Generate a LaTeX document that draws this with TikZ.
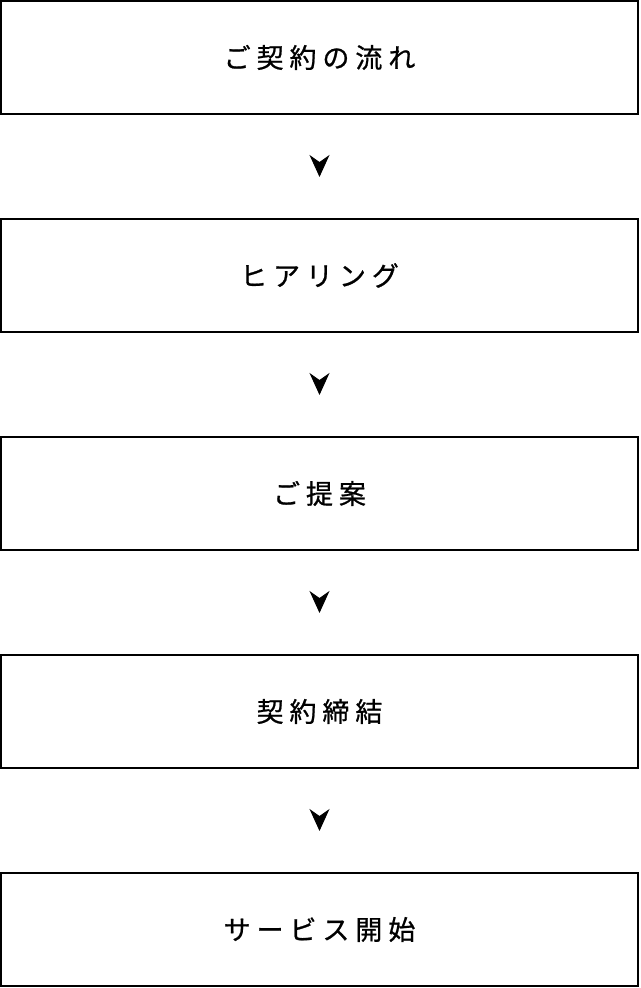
\documentclass[tikz,border=0pt]{standalone}
\usepackage{fontspec}
\newfontfamily\jpfont[LetterSpace=22,FakeBold=0.8]{Noto Sans CJK JP}
\usetikzlibrary{arrows.meta}

\begin{document}
\begin{tikzpicture}[x=1pt,y=1pt,node distance=218pt,
  box/.style={draw,line width=2pt,minimum width=637pt,minimum height=113pt,font=\jpfont\fontsize{27}{31}\selectfont},
  flow/.style={-{Stealth[length=22pt,width=20pt,inset=7pt]},line width=1pt,shorten <=47pt,shorten >=41pt}]
\useasboundingbox (0,0) rectangle (640,988);
\node(s0)[box] at (319.5,930.5) {ご契約の流れ};
\node(s1)[box,below of=s0] {ヒアリング};
\node(s2)[box,below of=s1] {ご提案};
\node(s3)[box,below of=s2] {契約締結};
\node(s4)[box,below of=s3] {サービス開始};

\draw[flow] (s0) to (s1);
\draw[flow] (s1) to (s2);
\draw[flow] (s2) to (s3);
\draw[flow] (s3) to (s4);
\end{tikzpicture}
\end{document}
